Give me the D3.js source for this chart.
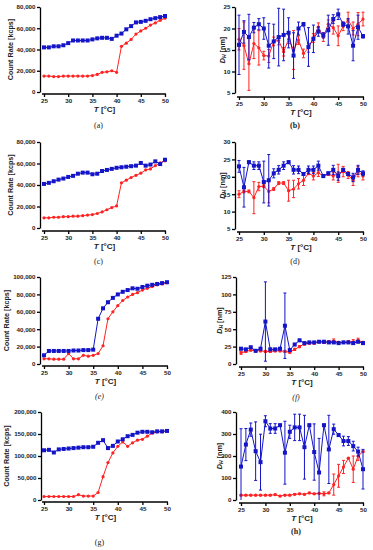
<!DOCTYPE html>
<html>
<head>
<meta charset="utf-8">
<script src="https://cdn.jsdelivr.net/npm/d3@7"></script>
<style>
body { margin: 0; background: #fff; }
svg text { font-family: "Liberation Sans", Arial, sans-serif; }
</style>
</head>
<body>
<div id="chart"></div>
<script>
// Set width and height
var svgWidth = 373;
var svgHeight = 550;

// Temperatures (x values) shared by every panel.
var temps = [25, 26, 27, 28, 29, 30, 31, 32, 33, 34, 35, 36, 37, 38, 39, 40, 41, 42, 43, 44, 45, 46, 47, 48, 49, 50];

// Panel (a) count rate
var countA_blue = [42000, 42000, 43000, 43000, 44000, 46000, 48500, 48500, 48500, 48500, 49500, 50500, 51000, 51000, 50000, 53000, 55000, 59000, 62000, 65500, 66000, 67000, 68500, 69500, 70500, 71500];
var countA_red = [15000, 15000, 14500, 14500, 15000, 15000, 15000, 15000, 15000, 15000, 15500, 16500, 18500, 19000, 20000, 18500, 43000, 46000, 49500, 54500, 57500, 60000, 63000, 65000, 67500, 69500];

// Panel (b) hydrodynamic diameter
var dhB_blue = [16.2, 19.2, 18, 20.2, 21, 20, 16, 17, 18, 18.5, 19, 13.7, 20, 21, 15.7, 17.6, 19.3, 18.4, 19.6, 22.2, 23.3, 21, 20.5, 16, 20.3, 18.2];
var dhB_blueErr = [6.9, 2.6, 5.3, 1.2, 1.3, 2.5, 5.2, 4, 6.7, 6, 3.5, 5.3, 1.5, 0.4, 4.5, 3.2, 1.1, 0.6, 3.5, 1, 1.2, 0.5, 1.8, 3.5, 2.8, 0.4];
var dhB_red = [17.5, 16, 11.8, 16.5, 15.5, 13.7, 13.6, 17, 17.2, 14.6, 17.5, 15, 17.3, 14.2, 15.5, 17.8, 20.3, 18, 21, 20.2, 18.3, 20.5, 22, 20, 21, 22.2];
var dhB_redErr = [2.5, 5.5, 6.2, 3.5, 4, 1, 1.5, 1, 1, 1, 1, 4.5, 1, 1, 1, 1, 1, 1, 1, 1.5, 2.3, 1, 1.8, 1.5, 2.7, 1.6];

// Panel (c) count rate
var countC_blue = [41000, 42000, 43500, 45000, 46000, 47500, 48500, 50500, 51500, 51500, 50000, 50500, 53000, 54000, 55000, 56000, 56500, 57000, 57500, 58000, 60500, 58000, 59000, 62000, 59500, 63500];
var countC_red = [9500, 9500, 10000, 10000, 10500, 10500, 11000, 11000, 11500, 12000, 12500, 13500, 15000, 17000, 19000, 20500, 42000, 44500, 47000, 49000, 51000, 54000, 55000, 58000, 60500, 62500];

// Panel (d) hydrodynamic diameter
var dhD_blue = [23, 17, 24.2, 23.2, 23.2, 18.5, 19, 21, 22, 23.2, 24.2, 22, 22, 20.8, 22, 22, 23.2, 20.2, 21, 22, 20.2, 22, 20.8, 19.8, 22, 21];
var dhD_blueErr = [1.7, 5.7, 0.4, 1.1, 1.1, 6, 7.4, 1.3, 1.2, 1.1, 0.4, 1.2, 1.1, 0.4, 1.1, 1.1, 1.3, 0.4, 0.4, 1.3, 1.2, 0.4, 0.4, 1.2, 1.3, 0.7];
var dhD_red = [15, 15.8, 15.8, 14, 17.2, 17.3, 15.8, 16.5, 18.2, 18.2, 16, 16.5, 18, 19, 21, 20.2, 21.2, 20.2, 20.8, 20.2, 21, 21.5, 20.5, 19, 21.5, 20.2];
var dhD_redErr = [1, 0.4, 0.4, 4.6, 1.2, 0.4, 3.3, 0.4, 0.4, 0.4, 3, 2.5, 1.5, 1.5, 0.4, 1.1, 1.1, 0.4, 0.4, 1.1, 2.6, 1.5, 1, 1.5, 1.5, 1.1];

// Panel (e) count rate
var countE_blue = [10000, 15000, 15000, 15000, 15000, 15000, 15500, 15500, 16000, 16000, 16500, 52000, 64000, 71000, 76000, 80000, 83000, 85000, 87000, 86500, 88500, 90000, 91000, 92000, 93000, 94000];
var countE_red = [6000, 6000, 5500, 5500, 5500, 12000, 6000, 6000, 10000, 9000, 10000, 12000, 21000, 52000, 60000, 67000, 73000, 77000, 80000, 82000, 85000, 87000, 89000, 91000, 92000, 93500];

// Panel (f) hydrodynamic diameter
var dhF_blue = [22, 21, 24, 19, 22, 61, 21, 21, 22, 55, 20, 28, 34, 30, 31, 31, 32, 32, 31, 31, 30, 31, 31, 30, 32, 30];
var dhF_blueErr = [1.5, 1.5, 1.5, 1.5, 1.5, 57, 1.5, 1.5, 1.5, 47, 1.5, 1.5, 1.5, 1.5, 1.5, 1.5, 1.5, 1.5, 1.5, 1.5, 2, 1.5, 1.5, 2, 1.5, 1.5];
var dhF_red = [16, 18, 20, 19, 19, 18, 18, 19, 19, 18, 17, 21, 25, 29, 30, 30, 32, 31, 32, 33, 31, 31, 32, 32, 34, 31];
var dhF_redErr = [2, 1.5, 1.5, 1.5, 1.5, 1.5, 1.5, 1.5, 1.5, 1.5, 1.5, 1.5, 1.5, 2, 1.5, 1.5, 1.5, 1.5, 1.5, 3, 1.5, 1.5, 1.5, 3, 3, 1.5];

// Panel (g) count rate
var countG_blue = [113000, 114000, 108000, 115000, 116000, 117000, 118000, 119000, 120000, 120000, 121000, 130000, 136000, 118000, 123000, 133000, 138000, 145000, 148000, 153000, 155000, 155000, 154000, 156000, 156000, 157000];
var countG_red = [8000, 8000, 8000, 8000, 8000, 8000, 8000, 12000, 9000, 9000, 9000, 17000, 53000, 85000, 107000, 122000, 132000, 122000, 130000, 136000, 138000, 145000, 152000, 155000, 155000, 157000];

// Panel (h) hydrodynamic diameter
var dhH_blue = [152, 252, 320, 222, 172, 358, 325, 325, 340, 215, 310, 330, 330, 240, 340, 218, 125, 340, 230, 322, 295, 268, 268, 245, 220, 140];
var dhH_blueErr = [172, 73, 30, 133, 127, 25, 22, 22, 5, 143, 30, 60, 60, 145, 5, 128, 155, 5, 155, 23, 5, 22, 20, 22, 20, 90];
var dhH_red = [22, 22, 22, 22, 22, 22, 22, 24, 18, 22, 22, 26, 28, 26, 32, 28, 30, 28, 32, 70, 110, 150, 190, 140, 200, 220];
var dhH_redErr = [3, 3, 3, 3, 3, 3, 3, 3, 3, 3, 3, 3, 3, 3, 3, 3, 3, 9, 3, 48, 52, 30, 3, 60, 20, 3];

// Tick labels
var tempTicks = [25, 30, 35, 40, 45, 50];

var blue = "#1414c8";
var red = "#ff2222";

var svg = d3.select("#chart").append("svg")
    .attr("width", svgWidth)
    .attr("height", svgHeight);

// Panel layouts: position and axis settings for each panel.
var panels = [
    { cap: "(a)", capStyle: "normal", yAxisX: 40, x0: 44, x1: 165, top: 7, bottom: 92, axisY: 94, titleX: 10, capY: 128,
      kind: "count", yTicks: [0, 20000, 40000, 60000, 80000], blue: countA_blue, red: countA_red },
    { cap: "(b)", capStyle: "bold", yAxisX: 235, x0: 239, x1: 363, top: 7, bottom: 93, axisY: 97, titleX: 222, capY: 128,
      kind: "dh", yTicks: [5, 10, 15, 20, 25], blue: dhB_blue, blueErr: dhB_blueErr, red: dhB_red, redErr: dhB_redErr },
    { cap: "(c)", capStyle: "normal", yAxisX: 40, x0: 44, x1: 165, top: 142, bottom: 228, axisY: 231, titleX: 10, capY: 264,
      kind: "count", yTicks: [0, 20000, 40000, 60000, 80000], blue: countC_blue, red: countC_red },
    { cap: "(d)", capStyle: "normal", yAxisX: 235, x0: 239, x1: 363, top: 142, bottom: 229, axisY: 232, titleX: 222, capY: 264,
      kind: "dh", yTicks: [5, 10, 15, 20, 25, 30], blue: dhD_blue, blueErr: dhD_blueErr, red: dhD_red, redErr: dhD_redErr },
    { cap: "(e)", capStyle: "italic", yAxisX: 40, x0: 44, x1: 167, top: 277, bottom: 364, axisY: 366, titleX: 6, capY: 399,
      kind: "count", yTicks: [0, 20000, 40000, 60000, 80000, 100000], blue: countE_blue, red: countE_red },
    { cap: "(f)", capStyle: "italic", yAxisX: 236, x0: 241, x1: 363, top: 277, bottom: 364, axisY: 367, titleX: 219, capY: 400,
      kind: "dh", yTicks: [0, 25, 50, 75, 100, 125], blue: dhF_blue, blueErr: dhF_blueErr, red: dhF_red, redErr: dhF_redErr },
    { cap: "(g)", capStyle: "normal", yAxisX: 41, x0: 44, x1: 167, top: 412, bottom: 500, axisY: 502, titleX: 6, capY: 545,
      kind: "count", yTicks: [0, 50000, 100000, 150000, 200000], blue: countG_blue, red: countG_red },
    { cap: "(h)", capStyle: "bold", yAxisX: 236, x0: 241, x1: 363, top: 412, bottom: 500, axisY: 503, titleX: 219, capY: 534,
      kind: "dh", yTicks: [0, 100, 200, 300, 400], blue: dhH_blue, blueErr: dhH_blueErr, red: dhH_red, redErr: dhH_redErr }
];

panels.forEach(drawPanel);

function drawPanel(p) {
    var g = svg.append("g");
    var yMin = p.yTicks[0], yMax = p.yTicks[p.yTicks.length - 1];
    var x = d3.scaleLinear().domain([25, 50]).range([p.x0, p.x1]);
    var y = d3.scaleLinear().domain([yMin, yMax]).range([p.bottom, p.top]);

    // Axes
    var fmt = p.kind === "count" ? d3.format(",") : d3.format("d");
    var leftAxis = d3.axisLeft(y).tickValues(p.yTicks).tickFormat(fmt).tickSize(3).tickSizeOuter(0).tickPadding(1.5);
    var bottomAxis = d3.axisBottom(x).tickValues(tempTicks).tickSize(3).tickSizeOuter(0).tickPadding(2);
    var ya = g.append("g").attr("transform", `translate(${p.yAxisX},0)`).call(leftAxis);
    var xa = g.append("g").attr("transform", `translate(0,${p.axisY})`).call(bottomAxis);
    xa.select(".domain").attr("d", `M${p.x0 - 2},0H${p.x1 + 1}`);
    [ya, xa].forEach(function(a) {
        a.select(".domain").attr("stroke", "#000").attr("stroke-width", 1.3);
        a.selectAll(".tick line").attr("stroke", "#000").attr("stroke-width", 1.3);
        a.selectAll(".tick text").attr("font-size", 6.2).attr("font-weight", "bold").attr("fill", "#222")
            .style("font-family", "'Liberation Sans', Arial, sans-serif");
    });

    // Axis titles
    var xt = g.append("text")
        .attr("x", (p.x0 + p.x1) / 2)
        .attr("y", p.axisY + 18)
        .attr("text-anchor", "middle")
        .attr("font-size", 8)
        .attr("font-weight", "bold")
        .attr("fill", "#222");
    xt.append("tspan").attr("font-style", "italic").text("T");
    xt.append("tspan").text(" [°C]");

    var cy = (p.top + p.bottom) / 2;
    var yt = g.append("text")
        .attr("transform", `translate(${p.titleX},${cy}) rotate(-90)`)
        .attr("text-anchor", "middle")
        .attr("dy", "0.35em")
        .attr("font-size", 7.2)
        .attr("font-weight", "bold")
        .attr("fill", "#222");
    if (p.kind === "count") {
        yt.text("Count Rate [kcps]");
    } else {
        yt.append("tspan").attr("font-style", "italic").text("D");
        yt.append("tspan").attr("font-style", "italic").attr("font-size", 5).attr("dy", 1.5).text("H");
        yt.append("tspan").attr("dy", -1.5).text(" [nm]");
    }

    // Caption
    g.append("text")
        .attr("x", (p.x0 + p.x1) / 2 - 6)
        .attr("y", p.capY)
        .attr("text-anchor", "middle")
        .attr("font-size", 8)
        .style("font-family", "'Liberation Serif', 'DejaVu Serif', serif")
        .attr("font-weight", p.capStyle === "bold" ? "bold" : "normal")
        .attr("font-style", p.capStyle === "italic" ? "italic" : "normal")
        .attr("fill", "#222")
        .text(p.cap);

    // Series
    drawSeries(g, x, y, p.red, p.redErr, red, "circle", yMin, yMax);
    drawSeries(g, x, y, p.blue, p.blueErr, blue, "square", yMin, yMax);
}

function drawSeries(g, x, y, values, errs, color, shape, yMin, yMax) {
    var data = temps.map(function(t, i) {
        return { t: t, v: values[i], e: errs ? errs[i] : 0 };
    });
    var line = d3.line().x(d => x(d.t)).y(d => y(d.v));
    g.append("path")
        .datum(data)
        .attr("d", line)
        .attr("fill", "none")
        .attr("stroke", color)
        .attr("stroke-width", 1);

    if (errs) {
        var eb = g.append("g").attr("stroke", color).attr("stroke-width", 1);
        data.forEach(function(d) {
            var lo = Math.max(yMin, d.v - d.e), hi = Math.min(yMax, d.v + d.e);
            var cx = x(d.t);
            eb.append("line").attr("x1", cx).attr("x2", cx).attr("y1", y(lo)).attr("y2", y(hi));
            eb.append("line").attr("x1", cx - 1.5).attr("x2", cx + 1.5).attr("y1", y(hi)).attr("y2", y(hi));
            if (lo > yMin) {
                eb.append("line").attr("x1", cx - 1.5).attr("x2", cx + 1.5).attr("y1", y(lo)).attr("y2", y(lo));
            }
        });
    }

    if (shape === "square") {
        g.selectAll(null).data(data).enter().append("rect")
            .attr("x", d => x(d.t) - 2)
            .attr("y", d => y(d.v) - 2)
            .attr("width", 4)
            .attr("height", 4)
            .attr("fill", color);
    } else {
        g.selectAll(null).data(data).enter().append("circle")
            .attr("cx", d => x(d.t))
            .attr("cy", d => y(d.v))
            .attr("r", 1.6)
            .attr("fill", color);
    }
}
</script>
</body>
</html>
